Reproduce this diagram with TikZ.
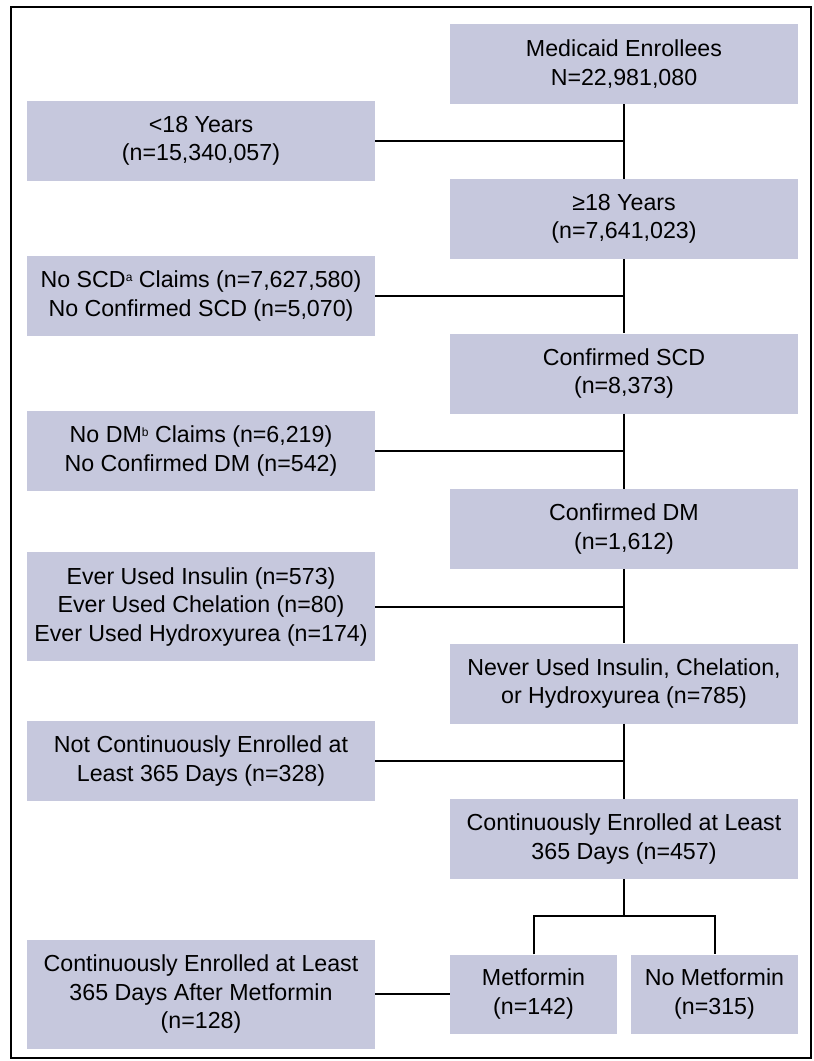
\documentclass[tikz,border=0pt]{standalone}
\usepackage{fontspec}
\setmainfont{Liberation Sans}
\definecolor{boxfill}{RGB}{198,200,221}
\newcommand{\supmark}[1]{\raisebox{0.55ex}{\fontsize{12}{12}\selectfont #1}}
\begin{document}
\begin{tikzpicture}[x=1pt,y=-1pt,
  box/.style={fill=boxfill, draw=none, inner sep=0pt, align=center,
    font=\fontsize{23.2}{28.5}\selectfont, text=black},
  wide/.style={box, minimum width=348pt, minimum height=80pt},
  tall/.style={box, minimum width=348pt, minimum height=109pt},
  small/.style={box, minimum width=167pt, minimum height=79pt},
  conn/.style={line width=2pt, draw=black}]
\useasboundingbox (0,0) rectangle (814,1061);
\draw[line width=2pt] (11,7) rectangle (811,1058);
% main column
\node[wide] (m1) at (624,64) {Medicaid Enrollees\\N=22,981,080};
\node[wide] (m2) at (624,219) {\char"2265 18 Years\\(n=7,641,023)};
\node[wide] (m3) at (624,373.5) {Confirmed SCD\\(n=8,373)};
\node[wide] (m4) at (624,529) {Confirmed DM\\(n=1,612)};
\node[wide] (m5) at (624,683.5) {Never Used Insulin, Chelation,\\or Hydroxyurea (n=785)};
\node[wide] (m6) at (624,839) {Continuously Enrolled at Least\\365 Days (n=457)};
% left column
\node[wide] (l1) at (201,141) {<18 Years\\(n=15,340,057)};
\node[wide] (l2) at (201,296) {No SCD\supmark{a} Claims (n=7,627,580)\\No Confirmed SCD (n=5,070)};
\node[wide] (l3) at (201,451) {No DM\supmark{b} Claims (n=6,219)\\No Confirmed DM (n=542)};
\node[tall] (l4) at (201,606.5) {Ever Used Insulin (n=573)\\Ever Used Chelation (n=80)\\Ever Used Hydroxyurea (n=174)};
\node[wide] (l5) at (201,761) {Not Continuously Enrolled at\\Least 365 Days (n=328)};
\node[tall] (l6) at (201,994) {Continuously Enrolled at Least\\365 Days After Metformin\\(n=128)};
% bottom pair
\node[small] (met) at (533.5,994) {Metformin\\(n=142)};
\node[small] (nomet) at (714.5,994) {No Metformin\\(n=315)};
\coordinate (br) at (624,916);
% connectors
\draw[conn] (m1.south) -- (m2.north);
\draw[conn] (m2.south) -- (m3.north);
\draw[conn] (m3.south) -- (m4.north);
\draw[conn] (m4.south) -- (m5.north);
\draw[conn] (m5.south) -- (m6.north);
\draw[conn] (m6.south) -- (br);
\draw[conn] (met.north) |- (br) -| (nomet.north);
\draw[conn] (l1.east) -- (l1.east -| m1.south);
\draw[conn] (l2.east) -- (l2.east -| m2.south);
\draw[conn] (l3.east) -- (l3.east -| m3.south);
\draw[conn] (l4.east) -- (l4.east -| m4.south);
\draw[conn] (l5.east) -- (l5.east -| m5.south);
\draw[conn] (l6.east) -- (met.west);
\end{tikzpicture}
\end{document}
